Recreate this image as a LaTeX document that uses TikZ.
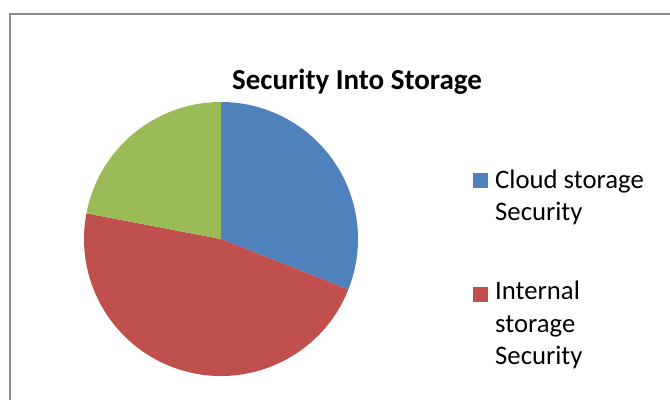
\documentclass[tikz,border=0pt]{standalone}
\usepackage{fontspec}
\setmainfont{Carlito}
\usetikzlibrary{positioning}

\definecolor{pieblue}{HTML}{4F81BD}
\definecolor{piered}{HTML}{C0504D}
\definecolor{piegreen}{HTML}{9BBB59}
\definecolor{framegray}{HTML}{8C8C8C}

\begin{document}
\begin{tikzpicture}[x=1pt,y=1pt,
    every node/.style={inner sep=0pt},
    legendbox/.style={minimum size=15pt},
    legendtext/.style={font=\fontsize{26.7}{32.3}\selectfont,align=left,anchor=base west}]
  \useasboundingbox (0,0) rectangle (670,400);
  \draw[framegray,line width=2pt] (9.7,0) -- (9.7,385.7) -- (670,385.7);

  % pie
  \coordinate (o) at (221,161);
  \fill[pieblue] (o) -- ++(90:137) arc[start angle=90,end angle=-21.6,radius=137] -- cycle;
  \fill[piered] (o) -- ++(-21.6:137) arc[start angle=-21.6,end angle=-190.8,radius=137] -- cycle;
  \fill[piegreen] (o) -- ++(169.2:137) arc[start angle=169.2,end angle=90,radius=137] -- cycle;

  \node[anchor=base,font=\fontsize{29}{34}\selectfont\bfseries] (title) at (357,310.7) {Security Into Storage};

  % legend (base = last line)
  \node[legendbox,fill=pieblue] (cloudbox) at (480.5,219.5) {};
  \node[legendtext] (cloud) at (495,179.3) {Cloud storage\\Security};
  \node[legendbox,fill=piered] (internalbox) at (480.5,106) {};
  \node[legendtext] (internal) at (495,35.5) {Internal\\storage\\Security};
\end{tikzpicture}
\end{document}
